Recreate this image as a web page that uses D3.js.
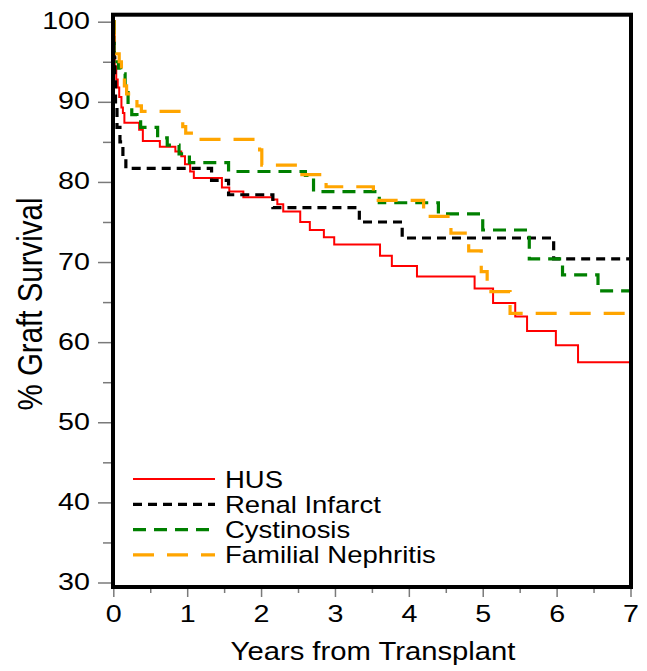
<!DOCTYPE html>
<html>
<head>
<meta charset="utf-8">
<script src="https://cdn.jsdelivr.net/npm/d3@7"></script>
<style>
  body { margin: 0; background: #fff; }
  text { font-family: "Liberation Sans", Arial, sans-serif; fill: #000; }
</style>
</head>
<body>
<div id="chart"></div>
<script>
// Kaplan-Meier graft survival (time in years, % surviving)
var seriesNames = ["HUS", "Renal Infarct", "Cystinosis", "Familial Nephritis"]

var husTime = [0, 0.02, 0.04, 0.06, 0.08, 0.11, 0.13, 0.15, 0.35, 0.4, 0.63, 0.84, 0.92, 0.97, 1.04, 1.09, 1.47, 1.57, 1.76, 2.15, 2.22, 2.3, 2.53, 2.66, 2.85, 2.99, 3.61, 3.77, 4.11, 4.89, 5.14, 5.44, 5.6, 5.99, 6.29, 7]
var husSurv = [100, 94.4, 92.8, 91.8, 90.6, 89.3, 88.6, 87.4, 86.5, 85.1, 84.4, 83.8, 83.2, 82.2, 81.3, 80.5, 79.3, 78.8, 78.1, 77.8, 77.2, 76.3, 75.0, 74.0, 73.1, 72.2, 70.8, 69.5, 68.2, 66.7, 64.9, 63.2, 61.4, 59.6, 57.5, 57.5]

var infarctTime = [0, 0.01, 0.02, 0.03, 0.05, 0.09, 0.13, 0.17, 1.33, 1.56, 2.16, 3.33, 3.91, 5.96, 7]
var infarctSurv = [100, 95.5, 92.5, 89.3, 86.8, 85.0, 83.2, 81.7, 80.2, 78.4, 76.8, 75.0, 73.0, 70.4, 70.4]

var cystTime = [0, 0.01, 0.07, 0.1, 0.16, 0.2, 0.25, 0.32, 0.37, 0.6, 0.73, 0.89, 1.03, 1.56, 2.6, 2.71, 3.6, 4.4, 5.0, 5.63, 6.08, 6.56, 7]
var cystSurv = [100, 95.0, 94.2, 93.5, 91.5, 89.5, 88.4, 87.8, 86.8, 85.5, 84.6, 83.5, 82.4, 81.3, 80.8, 78.8, 77.4, 76.0, 74.0, 70.4, 68.4, 66.4, 66.4]

var nephTime = [0, 0.01, 0.03, 0.08, 0.11, 0.15, 0.18, 0.27, 0.32, 0.38, 0.94, 0.98, 1.13, 1.98, 2.01, 2.5, 2.88, 3.52, 4.2, 4.57, 4.81, 4.98, 5.06, 5.37, 7]
var nephSurv = [100, 97.5, 96.0, 95.0, 94.0, 92.0, 91.0, 90.3, 89.5, 88.8, 86.9, 86.1, 85.3, 84.0, 82.1, 80.9, 79.4, 77.7, 75.7, 73.6, 71.4, 68.8, 66.3, 63.6, 63.6]

var xMajor = [0, 1, 2, 3, 4, 5, 6, 7]
var xMinor = [0.5, 1.5, 2.5, 3.5, 4.5, 5.5, 6.5]
var yMajor = [30, 40, 50, 60, 70, 80, 90, 100]
var yMinor = [35, 45, 55, 65, 75, 85, 95]

var colors = ["#ff0000", "#000000", "#008000", "#ffa500"]
var dashes = [null, "9,6", "13,8", "21,13"]
var widths = [2, 3.2, 3.2, 3.2]

var stretch = 1.17   // the original figure is a bit wider than tall

var W = 647, H = 671
var svg = d3.select("#chart")
            .append("svg")
            .attr("width", W)
            .attr("height", H)

var x = d3.scaleLinear().domain([0, 7]).range([113.3, 630.5])
var y = d3.scaleLinear().domain([30, 100]).range([582.5, 21.7])

var frameTop = 14.7, frameBottom = 587, frameLeft = 113, frameRight = 631

var series = [
    {name: seriesNames[0], t: husTime, s: husSurv},
    {name: seriesNames[1], t: infarctTime, s: infarctSurv},
    {name: seriesNames[2], t: cystTime, s: cystSurv},
    {name: seriesNames[3], t: nephTime, s: nephSurv}
]

var line = d3.line()
             .x(function (d) { return x(d[0]) })
             .y(function (d) { return y(d[1]) })
             .curve(d3.curveStepAfter)

svg.selectAll(".km")
   .data(series)
   .enter().append("path")
   .attr("class", "km")
   .attr("fill", "none")
   .attr("stroke", function (d, i) { return colors[i] })
   .attr("stroke-width", function (d, i) { return widths[i] })
   .attr("stroke-dasharray", function (d, i) { return dashes[i] })
   .attr("d", function (d) {
        return line(d.t.map(function (t, k) { return [t, d.s[k]] }))
   })

// y axis: ticks outside the left frame
var yAxis = svg.append("g")
               .attr("transform", "translate(" + (frameLeft - 2) + ",0)")
yAxis.call(d3.axisLeft(y).tickValues(yMajor).tickSize(13).tickFormat(d3.format("d")))
yAxis.append("g").call(d3.axisLeft(y).tickValues(yMinor).tickSize(8).tickFormat(""))
yAxis.selectAll(".domain").remove()
yAxis.selectAll("line").attr("stroke", "#7a7a7a").attr("stroke-width", 1.5)
yAxis.selectAll("text")
     .attr("x", null).attr("dy", null)
     .attr("transform", "translate(-21,7) scale(" + stretch + ",1)")
     .attr("x", 0)
     .style("font-size", "24.5px")
     .attr("fill", "#000")

// x axis: ticks below the bottom frame
var xAxis = svg.append("g")
               .attr("transform", "translate(0," + (frameBottom + 2) + ")")
xAxis.call(d3.axisBottom(x).tickValues(xMajor).tickSize(8).tickFormat(d3.format("d")))
xAxis.append("g").call(d3.axisBottom(x).tickValues(xMinor).tickSize(4).tickFormat(""))
xAxis.selectAll(".domain").remove()
xAxis.selectAll("line").attr("stroke", "#7a7a7a").attr("stroke-width", 1.5)
xAxis.selectAll("text")
     .attr("y", 0).attr("dy", null)
     .attr("transform", "translate(0,33) scale(" + stretch + ",1)")
     .style("font-size", "24.5px")
     .attr("fill", "#000")

// frame
svg.append("rect")
   .attr("x", frameLeft)
   .attr("y", frameTop)
   .attr("width", frameRight - frameLeft)
   .attr("height", frameBottom - frameTop)
   .attr("fill", "none")
   .attr("stroke", "#000")
   .attr("stroke-width", 4)

// axis titles
svg.append("text")
   .attr("transform", "translate(373,660) scale(" + stretch + ",1)")
   .attr("text-anchor", "middle")
   .style("font-size", "25px")
   .text("Years from Transplant")

svg.append("text")
   .attr("transform", "translate(42,304) scale(" + stretch + ",1) rotate(-90)")
   .attr("text-anchor", "middle")
   .style("font-size", "29.5px")
   .text("% Graft Survival")

// legend
var legend = svg.selectAll(".legend")
                .data(series)
                .enter().append("g")
                .attr("class", "legend")
                .attr("transform", function (d, i) {
                    return "translate(133," + (479 + i * 25.3) + ")"
                })

legend.append("line")
      .attr("x1", 0)
      .attr("x2", 82)
      .attr("y1", 0)
      .attr("y2", 0)
      .attr("stroke", function (d, i) { return colors[i] })
      .attr("stroke-width", function (d, i) { return widths[i] })
      .attr("stroke-dasharray", function (d, i) { return dashes[i] })

legend.append("text")
      .attr("transform", "translate(92,8.5) scale(" + stretch + ",1)")
      .style("font-size", "23.5px")
      .text(function (d) { return d.name })
</script>
</body>
</html>
